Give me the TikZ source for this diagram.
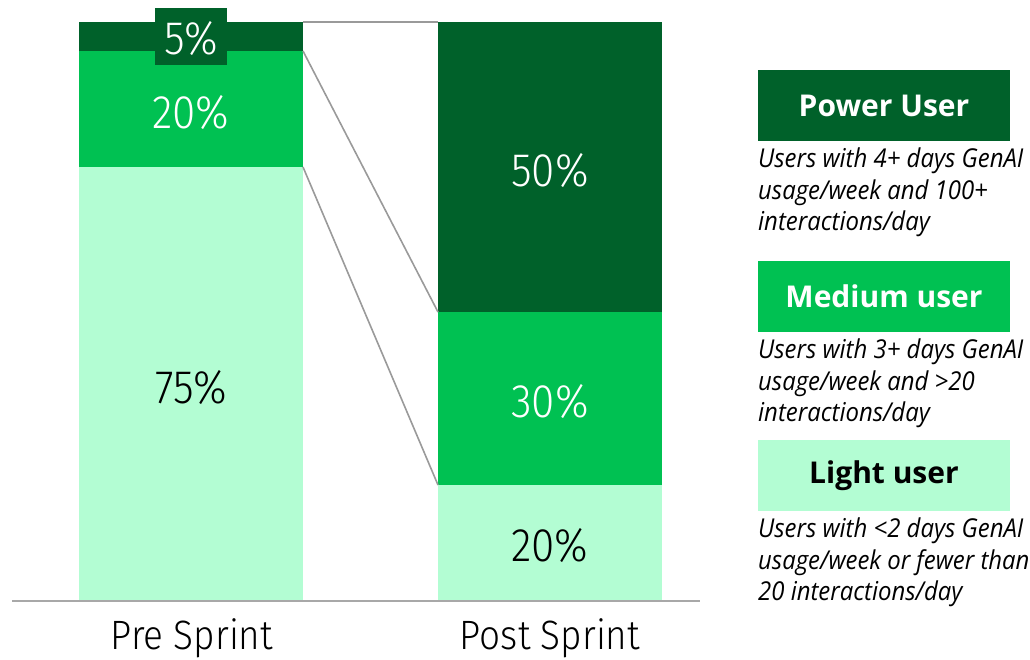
\documentclass[tikz,border=0pt]{standalone}
\usepackage{fontspec}
\setmainfont{Fira Sans}
\newfontfamily\numfont{Fira Sans Light}[FakeStretch=0.9]
\newfontfamily\headfont{Open Sans}
\newfontfamily\descfont{Open Sans}[FakeStretch=0.92]
\definecolor{powergreen}{HTML}{00612A}
\definecolor{mediumgreen}{HTML}{00C152}
\definecolor{lightgreen}{HTML}{B3FDD3}
\definecolor{linkgray}{HTML}{9A9A9A}
\definecolor{axisgray}{HTML}{A8A8A8}
\tikzset{
  seg/.style={rectangle, inner sep=0pt, outer sep=0pt, minimum width=224pt},
  pct/.style={font=\numfont\fontsize{47}{47}\selectfont},
  legbox/.style={rectangle, inner sep=0pt, outer sep=0pt, minimum width=252pt, minimum height=71pt,
    font=\headfont\bfseries\fontsize{30}{30}\selectfont},
  desc/.style={anchor=north west, inner sep=0pt, align=left,
    font=\descfont\itshape\fontsize{26}{31.3}\selectfont},
  link/.style={draw=linkgray, line width=1.6pt},
  axis/.style={draw=axisgray, line width=2pt},
  cat/.style={font=\numfont\fontsize{41}{41}\selectfont}
}
\begin{document}
\begin{tikzpicture}[x=1pt, y=-1pt]
\useasboundingbox (0,0) rectangle (1030,659);

% Pre Sprint stack
\node[seg, fill=powergreen, minimum height=29pt] (prepow) at (191,36.5) {};
\node[seg, fill=mediumgreen, minimum height=116pt] (premed) at (191,109) {};
\node[seg, fill=lightgreen, minimum height=433pt] (prelig) at (191,383.5) {};
\node[rectangle, fill=powergreen, inner sep=0pt, minimum width=72pt, minimum height=57pt]
  (prepowtab) at (191,36.5) {};
\node[pct, text=white] at ([yshift=-2pt]prepowtab.center) {5\%};
\node[pct, text=white] at ([yshift=-4pt]premed.center) {20\%};
\node[pct, text=black] at ([yshift=-4pt]prelig.center) {75\%};

% Post Sprint stack
\node[seg, fill=powergreen, minimum height=290pt] (postpow) at (550,167) {};
\node[seg, fill=mediumgreen, minimum height=173pt] (postmed) at (550,398.5) {};
\node[seg, fill=lightgreen, minimum height=115pt] (postlig) at (550,542.5) {};
\node[pct, text=white] at ([yshift=-4pt]postpow.center) {50\%};
\node[pct, text=white] at ([yshift=-3pt]postmed.center) {30\%};
\node[pct, text=black] at ([yshift=-3pt]postlig.center) {20\%};

% Links between the stacks
\draw[link] (prepow.north east) -- (postpow.north west);
\draw[link] (prepow.south east) -- (postpow.south west);
\draw[link] (premed.south east) -- (postmed.south west);

% Axis and category labels
\coordinate (axl) at (12,601);
\coordinate (axr) at (700,601);
\draw[axis] (axl) -- (axr);
\node[cat] (precat) at (192,638) {Pre Sprint};
\node[cat] (postcat) at (550,638) {Post Sprint};

% Legend
\node[legbox, fill=powergreen, text=white] (legpow) at (884,105.5) {Power User};
\node[desc] (descpow) at (758,148) {Users with 4+ days GenAI\\usage/week and 100+\\interactions/day};
\node[legbox, fill=mediumgreen, text=white] (legmed) at (884,296.5) {Medium user};
\node[desc] (descmed) at (758,339) {Users with 3+ days GenAI\\usage/week and >20\\interactions/day};
\node[legbox, fill=lightgreen, text=black] (leglig) at (884,475.5) {Light user};
\node[desc] (desclig) at (758,518) {Users with <2 days GenAI\\usage/week or fewer than\\20 interactions/day};
\end{tikzpicture}
\end{document}
